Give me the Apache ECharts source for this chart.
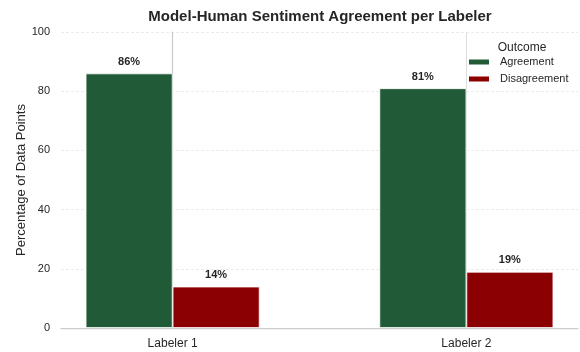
<!DOCTYPE html>
<html>
<head>
<meta charset="utf-8">
<script src="https://cdn.jsdelivr.net/npm/echarts@6/dist/echarts.min.js"></script>
<style>
  html, body { margin: 0; padding: 0; background: #fff; }
  #chart { width: 580px; height: 352px; }
</style>
</head>
<body>
<div id="chart"></div>
<script>
// Labelers on the x axis and the share of points per outcome
const labelers = ['Labeler 1', 'Labeler 2'];
const outcomes = ['Agreement', 'Disagreement'];
const agreement = [86, 81];
const disagreement = [14, 19];
const yTicks = [0, 20, 40, 60, 80, 100];

const FONT = 'Liberation Sans, Arial, sans-serif';
const colors = ['#215a37', '#8b0000'];

function barSeries(name, values, color) {
  return {
    name: name,
    type: 'bar',
    data: values.map((v, i) => [i, v]),
    barWidth: 87,
    barGap: '0%',
    clip: false,
    itemStyle: { color: color, borderColor: '#ffffff', borderWidth: 0.8 },
    label: {
      show: true,
      position: 'top',
      distance: 6,
      formatter: p => p.value[1] + '%',
      fontFamily: FONT,
      fontSize: 11,
      fontWeight: 'bold',
      color: '#262626'
    },
    z: 3
  };
}

const chart = echarts.init(document.getElementById('chart'), null, { renderer: 'canvas' });
chart.setOption({
  animation: false,
  backgroundColor: '#ffffff',
  title: [
    {
      text: 'Model-Human Sentiment Agreement per Labeler',
      left: 315, top: 4, textAlign: 'center',
      textStyle: { fontFamily: FONT, fontSize: 15, fontWeight: 'bold', color: '#262626' }
    },
    {
      text: 'Outcome',
      left: 517, top: 37, textAlign: 'center',
      textStyle: { fontFamily: FONT, fontSize: 12, fontWeight: 'normal', color: '#262626' }
    }
  ],
  legend: {
    data: outcomes,
    orient: 'vertical',
    left: 467, top: 55,
    padding: 0,
    itemWidth: 22, itemHeight: 7, itemGap: 3,
    icon: 'rect',
    textStyle: { fontFamily: FONT, fontSize: 11, lineHeight: 14, color: '#262626', padding: [0, 0, 0, 5] }
  },
  grid: { left: 61, right: 2, top: 32, bottom: 24, containLabel: false },
  xAxis: {
    type: 'value',
    min: -0.38, max: 1.38,
    axisLine: { show: true, onZero: false, lineStyle: { color: '#cccccc', width: 1.25 } },
    axisTick: { show: false, customValues: [0, 1] },
    axisLabel: {
      customValues: [0, 1],
      formatter: v => labelers[Math.round(v)],
      fontFamily: FONT, fontSize: 12, color: '#262626', margin: 10
    },
    splitLine: { show: true, lineStyle: { color: '#dddddd', width: 1 } }
  },
  yAxis: {
    type: 'value',
    min: yTicks[0], max: yTicks[yTicks.length - 1], interval: 20,
    name: 'Percentage of Data Points',
    nameLocation: 'middle', nameGap: 33, nameRotate: 90,
    nameMoveOverlap: false,
    nameTextStyle: { fontFamily: FONT, fontSize: 13, color: '#262626' },
    axisLine: { show: true, lineStyle: { color: '#cccccc', width: 1.25 } },
    axisTick: { show: false },
    axisLabel: { fontFamily: FONT, fontSize: 11, color: '#262626', margin: 11 },
    splitLine: { show: true, lineStyle: { color: '#e6e6e6', width: 0.8, type: [3, 2] } }
  },
  series: [
    barSeries(outcomes[0], agreement, colors[0]),
    barSeries(outcomes[1], disagreement, colors[1])
  ]
});
</script>
</body>
</html>
